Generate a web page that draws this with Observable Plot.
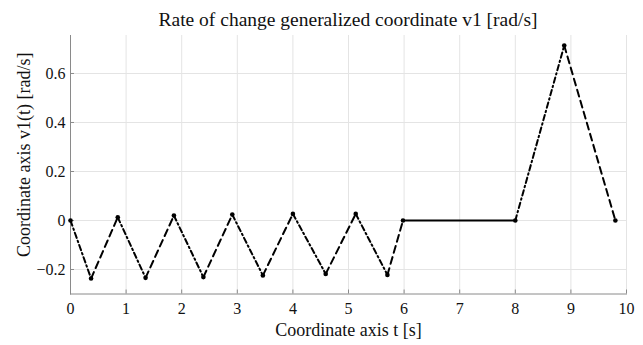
<!DOCTYPE html>
<html>
<head>
<meta charset="utf-8">
<script src="https://cdn.jsdelivr.net/npm/d3@7"></script>
<script src="https://cdn.jsdelivr.net/npm/@observablehq/plot@0.6"></script>
<style>
  html, body { margin: 0; padding: 0; background: #fff; }
  #wrap { width: 643px; height: 345px; font-family: "Liberation Serif", "Times New Roman", serif; }
  #title { height: 30px; box-sizing: border-box; padding: 10px 17px 0 70px; line-height: 20px; font-size: 19.5px; text-align: center; color: #111; white-space: nowrap; }
  #chart svg text { font-family: "Liberation Serif", "Times New Roman", serif; }
</style>
</head>
<body>
<div id="wrap">
  <div id="title">Rate of change generalized coordinate v1 [rad/s]</div>
  <div id="chart"></div>
</div>
<script>
// Vertices of the piecewise-linear velocity profile
const t = [0, 0.37, 0.85, 1.35, 1.86, 2.39, 2.91, 3.46, 4.0, 4.59, 5.13, 5.70, 5.98, 8.0, 8.88, 9.80];
const v = [0, -0.237, 0.013, -0.234, 0.02, -0.231, 0.024, -0.224, 0.027, -0.218, 0.027, -0.222, 0, 0, 0.714, 0];
// Line style of each segment (from vertex i to vertex i+1)
const segStyle = ["dashdot", "dashed", "dashdot", "dashed", "dashdot", "dashed", "dashdot", "dashed",
                  "dashdot", "dashed", "dashdot", "dashed", "solid", "dashdot", "dashed"];
const xTicks = [0, 1, 2, 3, 4, 5, 6, 7, 8, 9, 10];
const yTicks = [-0.2, 0, 0.2, 0.4, 0.6];
const xDomain = [0, 10];
const yDomain = [-0.3, 0.755];
const xLabel = "Coordinate axis t [s]";
const yLabel = "Coordinate axis v1(t) [rad/s]";

const points = t.map((ti, i) => ({t: ti, v: v[i]}));
const segs = [];
segStyle.forEach((s, i) => {
  segs.push({t: t[i], v: v[i], seg: i, style: s});
  segs.push({t: t[i + 1], v: v[i + 1], seg: i, style: s});
});
const fmt = d => d === 0 ? "0" : (d < 0 ? "\u2212" + Math.abs(d) : String(d));

const FONT = "Liberation Serif, Times New Roman, serif";
const W = 643, H = 315, mT = 5, mB = 51.5, mL = 70, mR = 17;
const plotH = H - mT - mB;

const chart = Plot.plot({
  width: W, height: H,
  marginTop: mT, marginBottom: mB, marginLeft: mL, marginRight: mR,
  style: {fontFamily: FONT, background: "#fff", color: "#111"},
  x: {domain: xDomain},
  y: {domain: yDomain},
  marks: [
    Plot.gridX(xTicks, {stroke: "#e4e4e4", strokeOpacity: 1, strokeWidth: 1}),
    Plot.gridY(yTicks, {stroke: "#e4e4e4", strokeOpacity: 1, strokeWidth: 1}),
    // inward ticks
    Plot.ruleX(xTicks, {x: d => d, insetTop: plotH - 4, stroke: "#8a8a8a"}),
    Plot.ruleY(yTicks, {y: d => d, insetRight: W - mL - mR - 4, stroke: "#8a8a8a"}),
    Plot.axisX(xTicks, {tickSize: 0, tickPadding: 9, fontSize: 16, fontFamily: FONT, label: null, fill: "#111"}),
    Plot.axisY(yTicks, {tickSize: 0, tickPadding: 5, fontSize: 16, fontFamily: FONT, label: null, tickFormat: fmt, fill: "#111"}),
    Plot.frame({anchor: "left", stroke: "#8a8a8a"}),
    Plot.frame({anchor: "bottom", stroke: "#8a8a8a"}),
    Plot.line(segs.filter(d => d.style === "solid"), {x: "t", y: "v", z: "seg", stroke: "#000", strokeWidth: 2}),
    Plot.line(segs.filter(d => d.style === "dashed"), {x: "t", y: "v", z: "seg", stroke: "#000", strokeWidth: 2, strokeDasharray: "7,4.5"}),
    Plot.line(segs.filter(d => d.style === "dashdot"), {x: "t", y: "v", z: "seg", stroke: "#000", strokeWidth: 2, strokeDasharray: "5.5,3,1.5,3"}),
    Plot.dot(points, {x: "t", y: "v", r: 2.3, fill: "#000", stroke: null}),
    Plot.text([xLabel], {frameAnchor: "bottom", dy: 42, fontSize: 18, fontFamily: FONT, lineAnchor: "bottom", fill: "#111"}),
    Plot.text([yLabel], {frameAnchor: "left", dx: -46, dy: -10, rotate: -90, fontSize: 18, fontFamily: FONT, textAnchor: "middle", lineAnchor: "middle", fill: "#111"})
  ]
});
document.getElementById("chart").appendChild(chart);
</script>
</body>
</html>
